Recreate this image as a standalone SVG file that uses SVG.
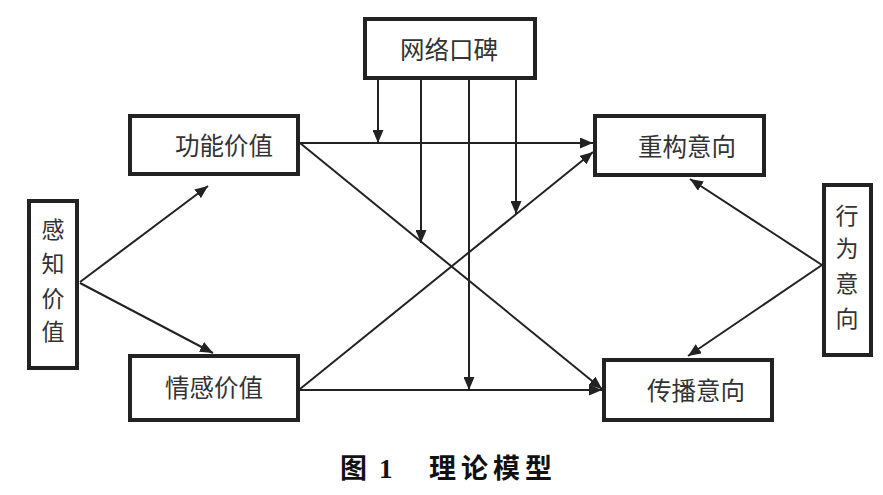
<svg xmlns="http://www.w3.org/2000/svg" width="883" height="495" viewBox="0 0 883 495">
<defs>
<marker id="arr" markerUnits="userSpaceOnUse" markerWidth="13" markerHeight="11" refX="13" refY="5.5" orient="auto">
<path d="M0,0 L13,5.5 L0,11 z" fill="#222"/>
</marker>
<style>
.box{fill:#fff;stroke:#222;stroke-width:4}
.t{font-family:"Noto Sans CJK SC",sans-serif;font-size:24.5px;fill:#333;text-anchor:middle}
.v{font-family:"Noto Sans CJK SC",sans-serif;font-size:23px;fill:#333;text-anchor:middle}
.c{stroke:#222;stroke-width:2;fill:none;marker-end:url(#arr)}
.cap{font-family:"Liberation Serif","Noto Sans CJK SC",serif;font-size:27px;font-weight:bold;fill:#111}
</style>
</defs>
<rect width="883" height="495" fill="#fff"/>
<g id="connectors">
<line class="c" x1="80" y1="282" x2="208" y2="186"/>
<line class="c" x1="80" y1="283" x2="213" y2="353"/>
<line class="c" x1="300" y1="143" x2="593" y2="143"/>
<line class="c" x1="300" y1="143" x2="602" y2="389"/>
<line class="c" x1="300" y1="390" x2="602" y2="390"/>
<line class="c" x1="300" y1="389" x2="593" y2="152"/>
<line class="c" x1="822" y1="265" x2="690" y2="179"/>
<line class="c" x1="822" y1="265" x2="688" y2="356"/>
<line class="c" x1="378" y1="80" x2="378" y2="143"/>
<line class="c" x1="421" y1="80" x2="421" y2="243"/>
<line class="c" x1="469" y1="80" x2="469" y2="390"/>
<line class="c" x1="516" y1="80" x2="516" y2="214"/>
</g>
<g id="wangluokoubei">
<rect class="box" x="365" y="19" width="170" height="59"/>
<text class="t" x="449" y="59">网络口碑</text>
</g>
<g id="gongnengjiazhi">
<rect class="box" x="130" y="116" width="168" height="58"/>
<text class="t" x="224" y="155">功能价值</text>
</g>
<g id="qingganjiazhi">
<rect class="box" x="130" y="356" width="168" height="64"/>
<text class="t" x="214" y="397">情感价值</text>
</g>
<g id="ganzhijiazhi">
<rect class="box" x="29" y="201" width="48" height="167"/>
<text class="v" x="53" y="238">感</text>
<text class="v" x="53" y="272">知</text>
<text class="v" x="53" y="307">价</text>
<text class="v" x="53" y="340">值</text>
</g>
<g id="chonggouyixiang">
<rect class="box" x="595" y="116" width="169" height="59"/>
<text class="t" x="687" y="156">重构意向</text>
</g>
<g id="chuanboyixiang">
<rect class="box" x="604" y="360" width="168" height="60"/>
<text class="t" x="696" y="400">传播意向</text>
</g>
<g id="xingweiyixiang">
<rect class="box" x="824" y="185" width="47" height="170"/>
<text class="v" x="847" y="224">行</text>
<text class="v" x="847" y="257">为</text>
<text class="v" x="847" y="292">意</text>
<text class="v" x="847" y="327">向</text>
</g>
<text class="cap" y="478"><tspan x="340">图</tspan><tspan x="379">1</tspan><tspan x="429" letter-spacing="5">理论模型</tspan></text>
</svg>
